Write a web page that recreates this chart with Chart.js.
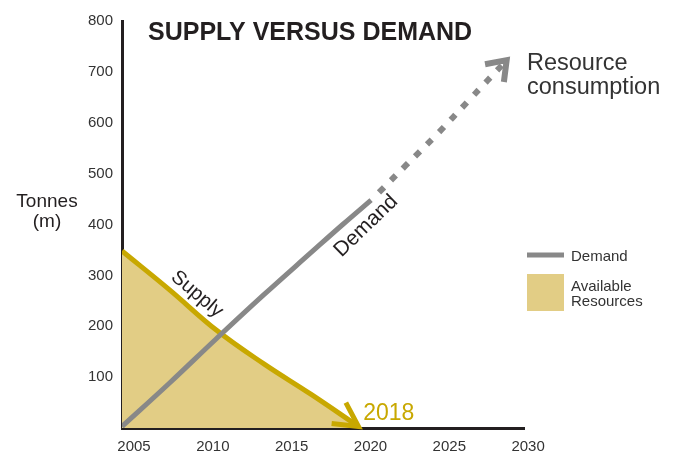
<!DOCTYPE html>
<html><head><meta charset="utf-8">
<script src="https://cdn.jsdelivr.net/npm/chart.js@4"></script>
<style>html,body{margin:0;padding:0;background:#fff}canvas{display:block}</style>
</head><body>
<canvas id="c" width="680" height="453"></canvas>
<script>
// ---- data ----
const xTickYears = [2005, 2010, 2015, 2020, 2025, 2030];
const yTickValues = [100, 200, 300, 400, 500, 600, 700, 800];
const supplyYears  = [2005, 2008, 2011, 2014, 2017, 2020];
const supplyValues = [348, 272, 192, 126, 66, 3];
const demandYears  = [2005, 2008, 2011, 2014, 2017, 2019, 2020.8];
const demandValues = [3, 88, 176, 262, 345, 400, 448];
const projectionYears  = [2021.3, 2023, 2025, 2027, 2029.4];
const projectionValues = [463, 516, 578, 644, 723];

const FONT = '"Liberation Sans", Arial, Helvetica, sans-serif';
const GOLD = '#C8A800', FILL = '#E2CD85', GREY = '#888888', INK = '#231F20', TEXT = '#333333';
const toXY = (xs, ys) => xs.map((x, i) => ({ x, y: ys[i] }));

const decor = {
  id: 'decor',
  afterDatasetsDraw(chart) {
    const ctx = chart.ctx;
    chart.data.datasets.forEach((ds, i) => {
      if (!ds.arrow) return;
      const pts = chart.getDatasetMeta(i).data;
      const p1 = pts[pts.length - 1], p0 = pts[pts.length - 2];
      const back = Math.atan2(p1.y - p0.y, p1.x - p0.x) + Math.PI;
      const L = ds.arrow.len, s = ds.arrow.spread;
      ctx.save();
      ctx.strokeStyle = ds.borderColor;
      ctx.lineWidth = ds.arrow.width;
      ctx.lineJoin = 'miter'; ctx.lineCap = 'butt'; ctx.setLineDash([]);
      ctx.beginPath();
      ctx.moveTo(p1.x + L * Math.cos(back + s), p1.y + L * Math.sin(back + s));
      ctx.lineTo(p1.x, p1.y);
      ctx.lineTo(p1.x + L * Math.cos(back - s), p1.y + L * Math.sin(back - s));
      ctx.stroke();
      ctx.restore();
    });
  },
  afterDraw(chart) {
    const ctx = chart.ctx, xs = chart.scales.x, ys = chart.scales.y;
    const px = (x, y) => [xs.getPixelForValue(x), ys.getPixelForValue(y)];
    ctx.save();
    ctx.textBaseline = 'alphabetic';
    // title
    ctx.fillStyle = INK; ctx.textAlign = 'left';
    ctx.font = 'bold 25px ' + FONT;
    ctx.fillText('SUPPLY VERSUS DEMAND', 148, 40, 326);
    // y title
    ctx.fillStyle = INK; ctx.textAlign = 'center';
    ctx.font = '19px ' + FONT;
    ctx.fillText('Tonnes', 47, 207);
    ctx.fillText('(m)', 47, 227);
    // resource consumption
    ctx.fillStyle = TEXT; ctx.textAlign = 'left';
    ctx.font = '23.5px ' + FONT;
    ctx.fillText('Resource', 527, 70);
    ctx.fillText('consumption', 527, 94);
    // 2018
    ctx.fillStyle = GOLD; ctx.font = '23px ' + FONT;
    let p = px(2020.3, 16);
    ctx.fillText('2018', p[0], p[1]);
    // rotated curve labels
    ctx.fillStyle = INK; ctx.textAlign = 'center'; ctx.textBaseline = 'middle';
    ctx.font = '20px ' + FONT;
    p = px(2009.76, 263);
    ctx.save(); ctx.translate(p[0], p[1]); ctx.rotate(40 * Math.PI / 180); ctx.fillText('Supply', 0, 0); ctx.restore();
    ctx.font = '21px ' + FONT;
    p = px(2020.48, 397);
    ctx.save(); ctx.translate(p[0], p[1]); ctx.rotate(-44 * Math.PI / 180); ctx.fillText('Demand', 0, 0); ctx.restore();
    // legend
    ctx.textBaseline = 'alphabetic'; ctx.textAlign = 'left';
    ctx.strokeStyle = GREY; ctx.lineWidth = 5; ctx.lineCap = 'butt';
    ctx.beginPath(); ctx.moveTo(527, 255); ctx.lineTo(564, 255); ctx.stroke();
    ctx.fillStyle = FILL; ctx.fillRect(527, 274, 37, 37);
    ctx.fillStyle = TEXT; ctx.font = '15px ' + FONT;
    ctx.fillText('Demand', 571, 261);
    ctx.fillText('Available', 571, 291);
    ctx.fillText('Resources', 571, 306);
    ctx.restore();
  }
};

new Chart(document.getElementById('c'), {
  type: 'line',
  data: {
    datasets: [
      { label: 'Demand', data: toXY(demandYears, demandValues), borderColor: GREY, borderWidth: 5,
        borderCapStyle: 'butt', pointRadius: 0, fill: false, tension: 0.4, order: 1 },
      { label: 'Projected demand', data: toXY(projectionYears, projectionValues), borderColor: GREY, borderWidth: 6,
        borderDash: [7, 10], borderCapStyle: 'butt', pointRadius: 0, fill: false, tension: 0.4, order: 2,
        arrow: { len: 22, spread: 36 * Math.PI / 180, width: 6 } },
      { label: 'Supply', data: toXY(supplyYears, supplyValues), borderColor: GOLD, backgroundColor: FILL, fill: 'origin',
        borderWidth: 5, borderCapStyle: 'butt', pointRadius: 0, tension: 0.4, order: 3,
        arrow: { len: 27, spread: 28 * Math.PI / 180, width: 5 } }
    ]
  },
  options: {
    responsive: false, animation: false, events: [],
    layout: { padding: { top: 21, right: 156, left: 0, bottom: 0 } },
    plugins: { legend: { display: false }, tooltip: { enabled: false }, title: { display: false } },
    scales: {
      x: {
        type: 'linear', min: 2005, max: 2030.5, z: 1,
        afterBuildTicks: s => { s.ticks = xTickYears.map(v => ({ value: v })); },
        afterFit: s => { s.height = 25; },
        grid: { display: true, color: 'rgba(0,0,0,0)', drawTicks: false },
        border: { display: true, color: INK, width: 3 },
        ticks: { autoSkip: false, maxRotation: 0, labelOffset: 12, padding: 10, color: TEXT,
                 font: { family: FONT, size: 15 }, callback: v => String(v) }
      },
      y: {
        type: 'linear', min: 0, max: 800, z: 1,
        afterBuildTicks: s => { s.ticks = yTickValues.map(v => ({ value: v })); },
        afterFit: s => { s.width = 122; },
        grid: { display: true, color: 'rgba(0,0,0,0)', drawTicks: false },
        border: { display: true, color: INK, width: 3 },
        ticks: { padding: 9, color: TEXT, font: { family: FONT, size: 15 }, callback: v => String(v) }
      }
    }
  },
  plugins: [decor]
});
</script>
</body></html>
